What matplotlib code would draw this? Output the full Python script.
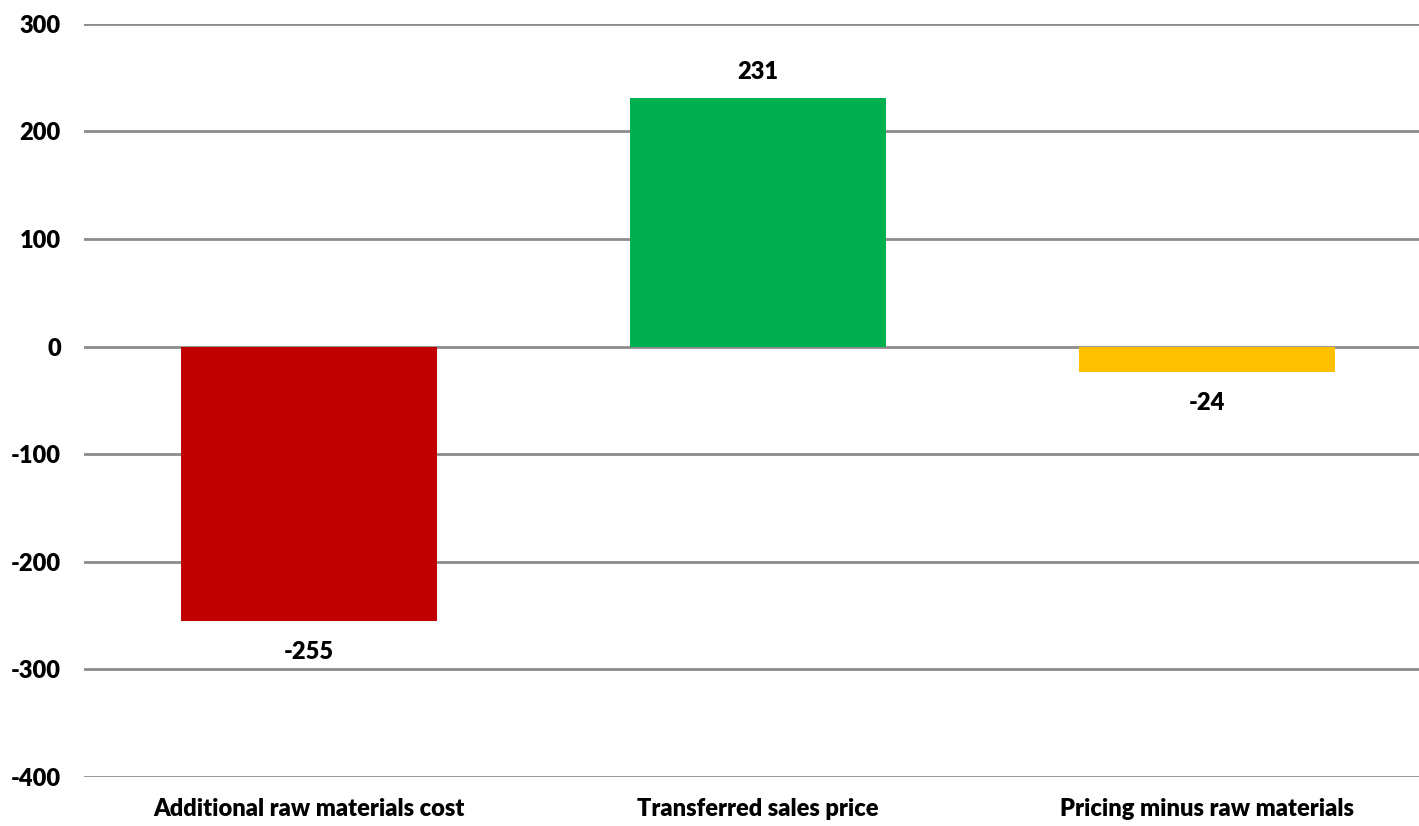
import matplotlib
matplotlib.use("Agg")
import matplotlib.pyplot as plt

categories = ["Additional raw materials cost", "Transferred sales price", "Pricing minus raw materials"]
values = [-255, 231, -24]
colors = ["#C00000", "#00B050", "#FFC000"]
yticks = [-400, -300, -200, -100, 0, 100, 200, 300]

plt.rcParams["font.family"] = ["Lato", "DejaVu Sans"]
plt.rcParams["font.weight"] = "heavy"

fig = plt.figure(figsize=(14.19, 8.26), dpi=100)
ax = fig.add_axes([0.0595, 0.0593, 0.9492, 0.912])

x = range(len(categories))
ax.bar(x, values, width=0.57, color=colors, zorder=3)

ax.set_xlim(-0.5, len(categories) - 0.5)
ax.set_ylim(-400, 300)
ax.set_yticks(yticks)
ax.set_yticklabels([str(t) for t in yticks], fontsize=17, fontweight="heavy")
ax.set_xticks(list(x))
ax.set_xticklabels(categories, fontsize=17, fontweight="heavy")
ax.tick_params(axis="both", length=0)
ax.tick_params(axis="y", pad=17)
ax.tick_params(axis="x", pad=15)

ax.grid(axis="y", color="#8C8C8C", linewidth=2, zorder=0)
for s in ax.spines.values():
    s.set_visible(False)

for xi, v in zip(x, values):
    off = 19 if v >= 0 else -22
    ax.annotate(str(v), (xi, v), xytext=(0, off), textcoords="offset points",
                ha="center", va="center", fontsize=17, fontweight="heavy")

fig.savefig("out.png", dpi=100)
